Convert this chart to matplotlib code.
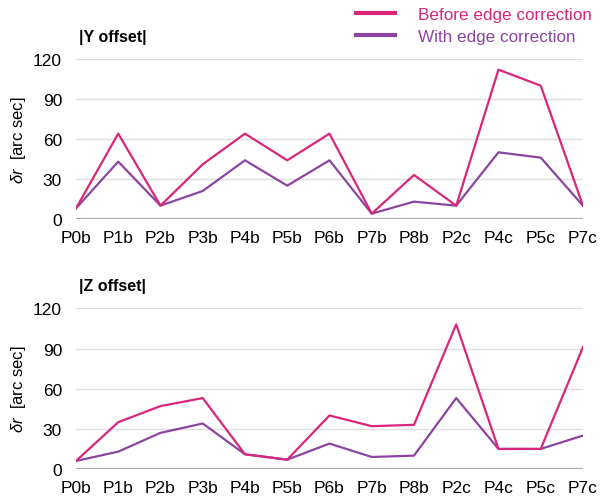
import matplotlib.pyplot as plt
import numpy as np

plt.rcParams["font.family"] = ["Liberation Sans", "DejaVu Sans"]
plt.rcParams["mathtext.fontset"] = "custom"
plt.rcParams["mathtext.it"] = "Liberation Sans:italic"
plt.rcParams["mathtext.rm"] = "Liberation Sans"

# Data
labels = ["P0b", "P1b", "P2b", "P3b", "P4b", "P5b", "P6b",
          "P7b", "P8b", "P2c", "P4c", "P5c", "P7c"]
y_before = [8, 64, 10, 41, 64, 44, 64, 4, 33, 10, 112, 100, 10]
y_with = [8, 43, 10, 21, 44, 25, 44, 4, 13, 10, 50, 46, 10]
z_before = [6, 35, 47, 53, 11, 7, 40, 32, 33, 108, 15, 15, 91]
z_with = [6, 13, 27, 34, 11, 7, 19, 9, 10, 53, 15, 15, 25]
yticks = [0, 30, 60, 90, 120]

c_before = "#d8277a"
c_with = "#8b45a0"

fig = plt.figure(figsize=(6.06, 5.02), dpi=100)
ax1 = fig.add_axes([0.1254, 0.5618, 0.8366, 0.3187])
ax2 = fig.add_axes([0.1254, 0.0637, 0.8366, 0.3201])

x = np.arange(len(labels))

for ax, before, with_, title in [(ax1, y_before, y_with, "|Y offset|"),
                                 (ax2, z_before, z_with, "|Z offset|")]:
    ax.plot(x, before, color=c_before, lw=1.6, label="Before edge correction",
            zorder=3)
    ax.plot(x, with_, color=c_with, lw=1.6, label="With edge correction",
            zorder=2)
    ax.set_xlim(0, len(labels) - 1)
    ax.set_ylim(0, 120)
    ax.set_yticks(yticks)
    ax.set_xticks(x)
    ax.set_xticklabels(labels)
    ax.grid(axis="y", color="#dedede", lw=1.0)
    ax.axhline(0, color="#aaaaaa", lw=1.6, zorder=1)
    ax.set_axisbelow(True)
    for s in ax.spines.values():
        s.set_visible(False)
    ax.tick_params(length=0, labelsize=12.5)
    ax.tick_params(axis="y", pad=10)
    ax.tick_params(axis="x", pad=8)
    ax.set_ylabel(r"$\delta r$  [arc sec]", fontsize=12, labelpad=4)
    ax.text(0.005, 1.14, title, transform=ax.transAxes, fontsize=11.5,
            fontweight="bold", va="center", ha="left")

leg = ax1.legend(loc="upper right", bbox_to_anchor=(1.0, 1.012),
                 bbox_transform=fig.transFigure, frameon=False, fontsize=12.3,
                 handlelength=2.3, handletextpad=1.35, labelspacing=0.42,
                 labelcolor=[c_before, c_with], borderpad=0.3)
for line in leg.get_lines():
    line.set_linewidth(3)

fig.savefig("out.png", dpi=100)
plt.close(fig)
